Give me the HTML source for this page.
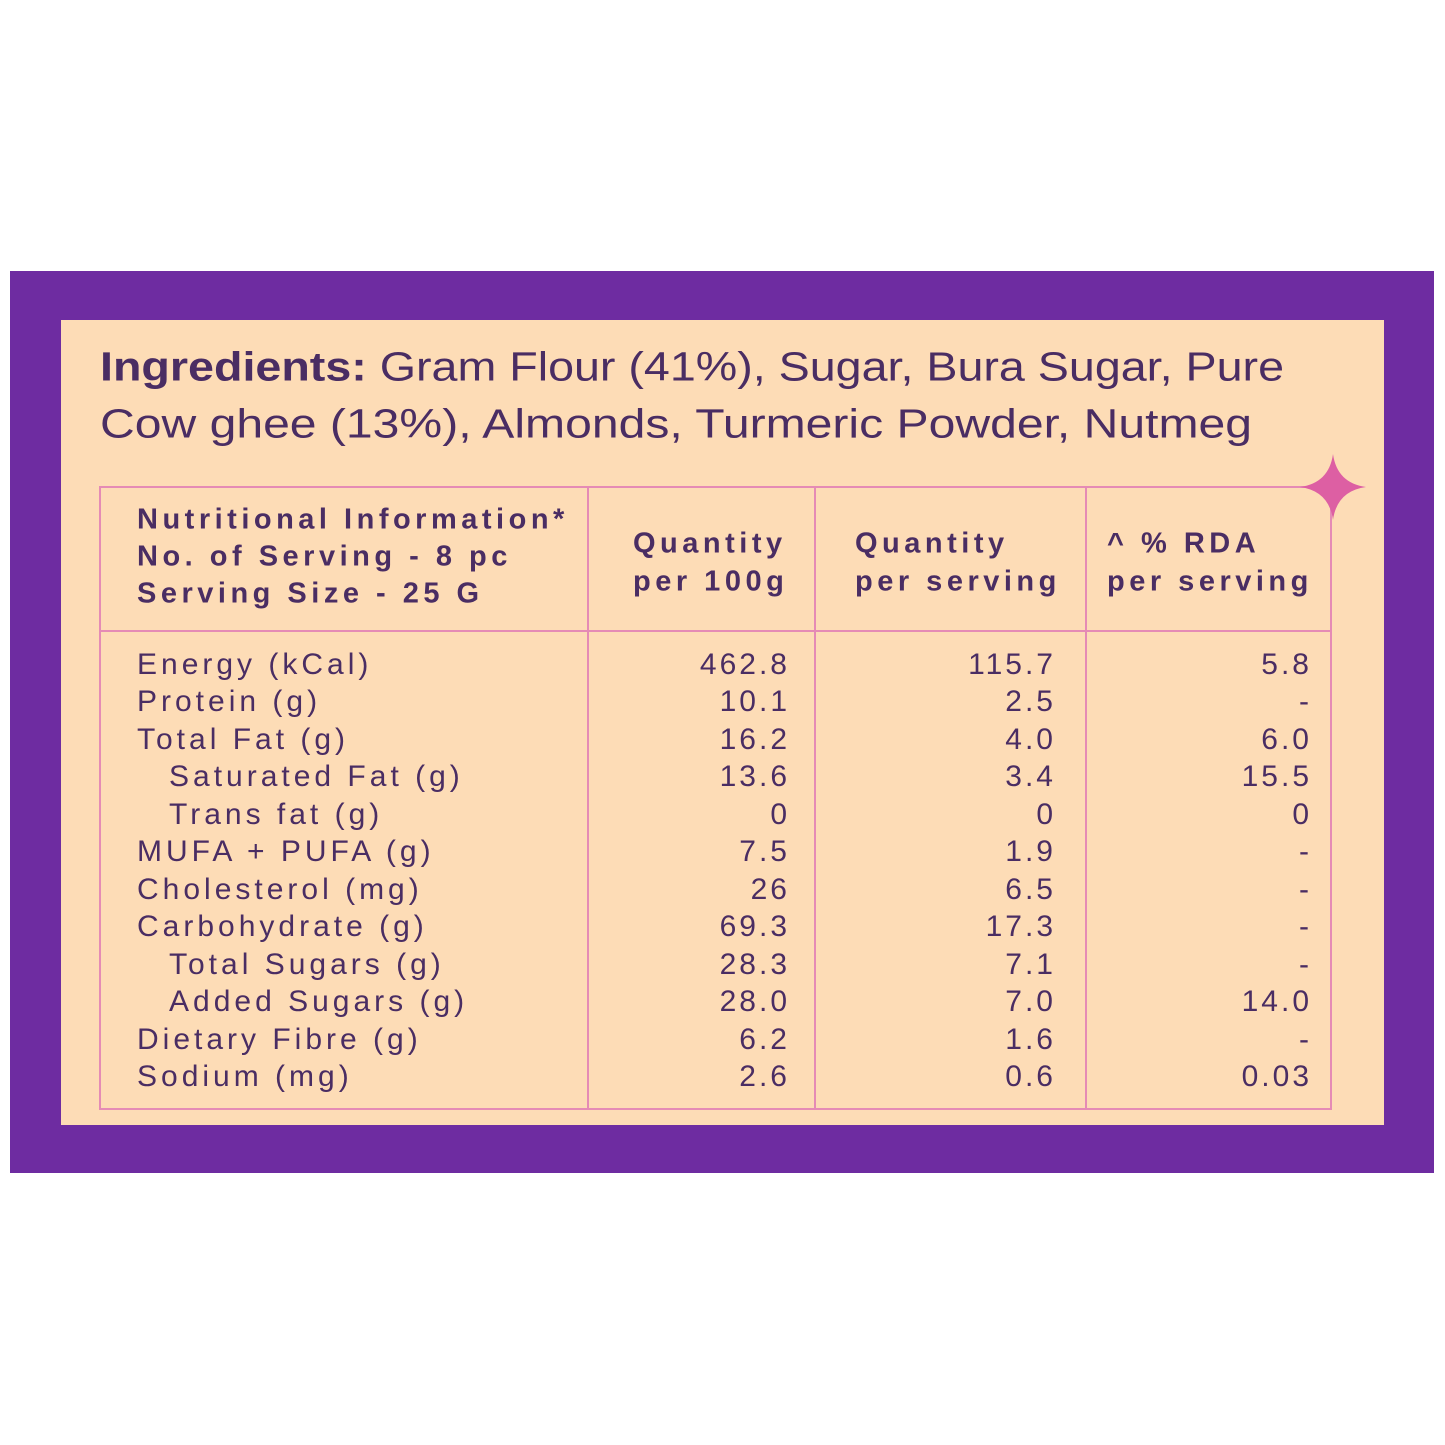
<!DOCTYPE html>
<html><head><style>
body{margin:0;width:1445px;height:1445px;background:#fff;position:relative;overflow:hidden;font-family:"Liberation Sans",sans-serif;color:#4a2d63}
.p{position:absolute;left:10px;top:271px;width:1424px;height:902px;background:#6e2ca1}
.c{position:absolute;left:61px;top:320px;width:1323px;height:805px;background:#fddcb6}
.l{position:absolute;background:#e58bb5}
.t{position:absolute;white-space:nowrap;line-height:1;transform:translateY(-50%)}
.r{text-align:right}
.ing{font-size:41px;left:100px;transform-origin:0 50%}
.h{font-size:29px;font-weight:bold;letter-spacing:4.5px}
.d{font-size:30px;letter-spacing:4px}
</style></head><body>
<div class="p"></div><div class="c"></div>
<div class="t ing" style="top:367px;transform:translateY(-50%) scaleX(1.137)"><b>Ingredients:</b> Gram Flour (41%), Sugar, Bura Sugar, Pure</div>
<div class="t ing" style="top:424px;transform:translateY(-50%) scaleX(1.173)">Cow ghee (13%), Almonds, Turmeric Powder, Nutmeg</div>
<div class="l" style="left:100px;top:486px;width:1232px;height:2px"></div>
<div class="l" style="left:100px;top:630px;width:1232px;height:2px"></div>
<div class="l" style="left:100px;top:1108px;width:1232px;height:2px"></div>
<div class="l" style="left:99px;top:486px;width:2px;height:624px"></div>
<div class="l" style="left:587px;top:486px;width:2px;height:624px"></div>
<div class="l" style="left:814px;top:486px;width:2px;height:624px"></div>
<div class="l" style="left:1085px;top:486px;width:2px;height:624px"></div>
<div class="l" style="left:1330px;top:486px;width:2px;height:624px"></div>
<svg style="position:absolute;left:1300px;top:454px" width="66" height="66" viewBox="-33 -33 66 66"><path d="M0,-33 Q4,-4 33,0 Q4,4 0,33 Q-4,4 -33,0 Q-4,-4 0,-33Z" fill="#dd5fa3"/></svg>
<div class="t h" style="left:137px;top:520px">Nutritional Information*</div>
<div class="t h" style="left:137px;top:557px">No. of Serving - 8 pc</div>
<div class="t h" style="left:137px;top:594px">Serving Size - 25 G</div>
<div class="t h" style="left:633px;top:544px">Quantity</div>
<div class="t h" style="left:633px;top:582px">per 100g</div>
<div class="t h" style="left:855px;top:544px">Quantity</div>
<div class="t h" style="left:855px;top:582px">per serving</div>
<div class="t h" style="left:1107px;top:544px">^ % RDA</div>
<div class="t h" style="left:1107px;top:582px">per serving</div>
<div id="rows"></div>
<script>
var R=[["Energy (kCal)",0,"462.8","115.7","5.8"],["Protein (g)",0,"10.1","2.5","-"],["Total Fat (g)",0,"16.2","4.0","6.0"],["Saturated Fat (g)",1,"13.6","3.4","15.5"],["Trans fat (g)",1,"0","0","0"],["MUFA + PUFA (g)",0,"7.5","1.9","-"],["Cholesterol (mg)",0,"26","6.5","-"],["Carbohydrate (g)",0,"69.3","17.3","-"],["Total Sugars (g)",1,"28.3","7.1","-"],["Added Sugars (g)",1,"28.0","7.0","14.0"],["Dietary Fibre (g)",0,"6.2","1.6","-"],["Sodium (mg)",0,"2.6","0.6","0.03"]];
var h="";R.forEach(function(r,i){var y=665+i*37.45;
h+='<div class="t d" style="left:'+(r[1]?169:137)+'px;top:'+y+'px">'+r[0]+'</div>';
[[790,r[2]],[1056,r[3]],[1312,r[4]]].forEach(function(c){h+='<div class="t d r" style="right:'+(1445-c[0])+'px;top:'+y+'px;letter-spacing:3px">'+c[1]+'</div>';});});
document.getElementById("rows").innerHTML=h;
</script>
</body></html>
